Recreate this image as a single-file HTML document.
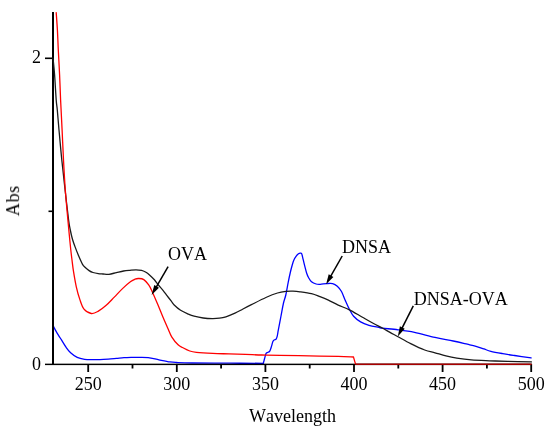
<!DOCTYPE html>
<html><head><meta charset="utf-8"><style>
html,body{margin:0;padding:0;background:#fff;}
body{width:550px;height:429px;overflow:hidden;font-family:"Liberation Serif",serif;}
svg{display:block;}
.t{will-change:transform;}
</style></head><body>
<svg width="550" height="429" viewBox="0 0 550 429">
<rect width="550" height="429" fill="#fff"/>
<g fill="none" stroke-linejoin="round" stroke-linecap="round">
<path d="M53.00,325.20 C53.27,325.77 53.98,327.42 54.60,328.60 C55.22,329.78 55.58,330.45 56.70,332.30 C57.82,334.15 59.75,337.22 61.30,339.70 C62.85,342.18 64.45,345.02 66.00,347.20 C67.55,349.38 68.73,351.10 70.60,352.80 C72.47,354.50 74.87,356.32 77.20,357.40 C79.53,358.48 82.13,358.92 84.60,359.30 C87.07,359.68 89.43,359.65 92.00,359.70 C94.57,359.75 97.28,359.70 100.00,359.60 C102.72,359.50 105.57,359.30 108.30,359.10 C111.03,358.90 113.78,358.63 116.40,358.40 C119.02,358.17 121.43,357.87 124.00,357.70 C126.57,357.53 129.23,357.47 131.80,357.40 C134.37,357.33 136.67,357.27 139.40,357.30 C142.13,357.33 144.93,357.18 148.20,357.60 C151.47,358.02 155.37,359.08 159.00,359.80 C162.63,360.52 167.08,361.45 170.00,361.90 C172.92,362.35 172.87,362.32 176.50,362.50 C180.13,362.68 182.88,362.88 191.80,363.00 C200.72,363.12 218.08,363.15 230.00,363.20 C241.92,363.25 257.75,363.28 263.30,363.30" stroke="#0000ff" stroke-width="1.3"/>
<path d="M263.30,363.30 C263.52,362.50 264.15,360.12 264.60,358.50 C265.05,356.88 265.50,354.60 266.00,353.60 C266.50,352.60 267.00,352.87 267.60,352.50 C268.20,352.13 269.00,352.27 269.60,351.40 C270.20,350.53 270.65,348.93 271.20,347.30 C271.75,345.67 272.35,342.85 272.90,341.60 C273.45,340.35 273.97,340.22 274.50,339.80 C275.03,339.38 275.63,339.77 276.10,339.10 C276.57,338.43 276.93,337.28 277.30,335.80 C277.67,334.32 277.68,333.50 278.30,330.20 C278.92,326.90 280.13,320.53 281.00,316.00 C281.87,311.47 282.70,306.50 283.50,303.00 C284.30,299.50 285.02,298.45 285.80,295.00 C286.58,291.55 287.45,286.05 288.20,282.30 C288.95,278.55 289.65,275.30 290.30,272.50 C290.95,269.70 291.52,267.55 292.10,265.50 C292.68,263.45 293.12,261.75 293.80,260.20 C294.48,258.65 295.42,257.27 296.20,256.20 C296.98,255.13 297.83,254.30 298.50,253.80 C299.17,253.30 299.67,253.20 300.20,253.20 C300.73,253.20 301.20,252.72 301.70,253.80 C302.20,254.88 302.67,257.57 303.20,259.70 C303.73,261.83 304.33,264.38 304.90,266.60 C305.47,268.82 306.00,271.18 306.60,273.00 C307.20,274.82 307.68,276.05 308.50,277.50 C309.32,278.95 310.23,280.62 311.50,281.70 C312.77,282.78 314.65,283.57 316.10,284.00 C317.55,284.43 318.47,284.37 320.20,284.30 C321.93,284.23 324.43,283.72 326.50,283.60 C328.57,283.48 330.80,283.17 332.60,283.60 C334.40,284.03 335.82,284.88 337.30,286.20 C338.78,287.52 340.18,289.17 341.50,291.50 C342.82,293.83 343.88,297.23 345.20,300.20 C346.52,303.17 348.00,306.62 349.40,309.30 C350.80,311.98 351.73,314.20 353.60,316.30 C355.47,318.40 358.03,320.40 360.60,321.90 C363.17,323.40 365.98,324.38 369.00,325.30 C372.02,326.22 376.42,326.92 378.70,327.40 C380.98,327.88 379.48,327.80 382.70,328.20 C385.92,328.60 392.70,329.10 398.00,329.80 C403.30,330.50 408.33,331.13 414.50,332.40 C420.67,333.67 428.55,335.97 435.00,337.40 C441.45,338.83 447.82,339.87 453.20,341.00 C458.58,342.13 463.50,343.32 467.30,344.20 C471.10,345.08 473.25,345.52 476.00,346.30 C478.75,347.08 481.32,348.07 483.80,348.90 C486.28,349.73 487.75,350.52 490.90,351.30 C494.05,352.08 498.75,352.90 502.70,353.60 C506.65,354.30 509.87,354.78 514.60,355.50 C519.33,356.22 528.35,357.50 531.10,357.90" stroke="#0000ff" stroke-width="1.3"/>
</g>
<g fill="#000">
<rect x="52" y="12" width="2" height="353"/>
<rect x="45" y="363.65" width="487" height="1.45"/>
<rect x="45" y="57.5" width="8" height="1.6"/>
<rect x="48.5" y="210.5" width="4" height="1.6"/>
<rect x="87.30" y="364" width="1.8" height="8"/>
<rect x="175.90" y="364" width="1.8" height="8"/>
<rect x="264.50" y="364" width="1.8" height="8"/>
<rect x="353.10" y="364" width="1.8" height="8"/>
<rect x="441.70" y="364" width="1.8" height="8"/>
<rect x="530.30" y="364" width="1.8" height="8"/>
<rect x="131.60" y="364" width="1.8" height="4.5"/>
<rect x="220.20" y="364" width="1.8" height="4.5"/>
<rect x="308.80" y="364" width="1.8" height="4.5"/>
<rect x="397.40" y="364" width="1.8" height="4.5"/>
<rect x="486.00" y="364" width="1.8" height="4.5"/>
</g>
<g fill="none" stroke-linejoin="round" stroke-linecap="round">
<path d="M53.00,58.00 C53.27,60.83 54.07,68.00 54.60,75.00 C55.13,82.00 55.75,94.17 56.20,100.00 C56.65,105.83 56.83,105.00 57.30,110.00 C57.77,115.00 58.25,121.67 59.00,130.00 C59.75,138.33 60.78,150.00 61.80,160.00 C62.82,170.00 63.97,180.00 65.10,190.00 C66.23,200.00 67.73,213.33 68.60,220.00 C69.47,226.67 69.67,226.83 70.30,230.00 C70.93,233.17 71.63,236.27 72.40,239.00 C73.17,241.73 73.87,243.60 74.90,246.40 C75.93,249.20 77.35,252.85 78.60,255.80 C79.85,258.75 81.33,262.18 82.40,264.10 C83.47,266.02 83.88,266.22 85.00,267.30 C86.12,268.38 87.77,269.73 89.10,270.60 C90.43,271.47 91.48,272.00 93.00,272.50 C94.52,273.00 96.53,273.35 98.20,273.60 C99.87,273.85 101.20,273.88 103.00,274.00 C104.80,274.12 106.77,274.53 109.00,274.30 C111.23,274.07 113.97,273.15 116.40,272.60 C118.83,272.05 121.33,271.38 123.60,271.00 C125.87,270.62 127.93,270.48 130.00,270.30 C132.07,270.12 134.07,269.90 136.00,269.90 C137.93,269.90 140.02,269.95 141.60,270.30 C143.18,270.65 144.18,271.23 145.50,272.00 C146.82,272.77 148.02,273.60 149.50,274.90 C150.98,276.20 152.93,278.13 154.40,279.80 C155.87,281.47 156.83,283.10 158.30,284.90 C159.77,286.70 161.72,288.77 163.20,290.60 C164.68,292.43 165.85,294.13 167.20,295.90 C168.55,297.67 170.13,299.68 171.30,301.20 C172.47,302.72 172.65,303.48 174.20,305.00 C175.75,306.52 178.25,308.78 180.60,310.30 C182.95,311.82 186.05,313.12 188.30,314.10 C190.55,315.08 191.62,315.55 194.10,316.20 C196.58,316.85 200.17,317.60 203.20,318.00 C206.23,318.40 209.58,318.57 212.30,318.60 C215.02,318.63 217.23,318.50 219.50,318.20 C221.77,317.90 223.32,317.63 225.90,316.80 C228.48,315.97 232.15,314.50 235.00,313.20 C237.85,311.90 240.27,310.42 243.00,309.00 C245.73,307.58 247.58,306.62 251.40,304.70 C255.22,302.78 261.55,299.45 265.90,297.50 C270.25,295.55 274.10,294.02 277.50,293.00 C280.90,291.98 283.72,291.70 286.30,291.40 C288.88,291.10 290.72,291.13 293.00,291.20 C295.28,291.27 296.92,291.38 300.00,291.80 C303.08,292.22 308.17,292.88 311.50,293.70 C314.83,294.52 317.18,295.62 320.00,296.70 C322.82,297.78 325.37,298.80 328.40,300.20 C331.43,301.60 334.70,303.50 338.20,305.10 C341.70,306.70 345.43,307.82 349.40,309.80 C353.37,311.78 358.05,314.75 362.00,317.00 C365.95,319.25 369.65,321.42 373.10,323.30 C376.55,325.18 379.88,326.78 382.70,328.30 C385.52,329.82 387.45,331.00 390.00,332.40 C392.55,333.80 394.55,334.83 398.00,336.70 C401.45,338.57 406.25,341.38 410.70,343.60 C415.15,345.82 420.65,348.47 424.70,350.00 C428.75,351.53 431.47,351.82 435.00,352.80 C438.53,353.78 442.27,355.02 445.90,355.90 C449.53,356.78 452.55,357.43 456.80,358.10 C461.05,358.77 465.95,359.45 471.40,359.90 C476.85,360.35 483.45,360.55 489.50,360.80 C495.55,361.05 500.72,361.22 507.70,361.40 C514.68,361.58 527.45,361.82 531.40,361.90" stroke="#1a1a1a" stroke-width="1.3"/>
<path d="M56.20,12.60 C56.40,15.50 57.05,23.77 57.40,30.00 C57.75,36.23 57.93,42.50 58.30,50.00 C58.67,57.50 59.22,66.67 59.60,75.00 C59.98,83.33 60.18,90.83 60.60,100.00 C61.02,109.17 61.62,120.00 62.10,130.00 C62.58,140.00 62.97,150.00 63.50,160.00 C64.03,170.00 64.57,180.00 65.30,190.00 C66.03,200.00 67.23,212.50 67.90,220.00 C68.57,227.50 68.82,230.00 69.30,235.00 C69.78,240.00 70.35,245.83 70.80,250.00 C71.25,254.17 71.55,256.43 72.00,260.00 C72.45,263.57 72.78,266.93 73.50,271.40 C74.22,275.87 75.25,282.13 76.30,286.80 C77.35,291.47 78.52,295.67 79.80,299.40 C81.08,303.13 82.08,306.85 84.00,309.20 C85.92,311.55 88.97,313.13 91.30,313.50 C93.63,313.87 95.52,312.77 98.00,311.40 C100.48,310.03 103.48,307.68 106.20,305.30 C108.92,302.92 111.58,299.88 114.30,297.10 C117.02,294.32 119.77,291.18 122.50,288.60 C125.23,286.02 128.62,283.17 130.70,281.60 C132.78,280.03 133.70,279.72 135.00,279.20 C136.30,278.68 137.03,278.43 138.50,278.50 C139.97,278.57 142.10,278.53 143.80,279.60 C145.50,280.67 147.33,282.97 148.70,284.90 C150.07,286.83 150.50,287.97 152.00,291.20 C153.50,294.43 155.92,300.08 157.70,304.30 C159.48,308.52 161.02,312.52 162.70,316.50 C164.38,320.48 166.30,324.82 167.80,328.20 C169.30,331.58 169.98,334.03 171.70,336.80 C173.42,339.57 176.22,342.97 178.10,344.80 C179.98,346.63 181.05,346.77 183.00,347.80 C184.95,348.83 187.57,350.25 189.80,351.00 C192.03,351.75 192.58,351.90 196.40,352.30 C200.22,352.70 207.27,353.13 212.70,353.40 C218.13,353.67 223.53,353.73 229.00,353.90 C234.47,354.07 240.03,354.22 245.50,354.40 C250.97,354.58 256.05,354.85 261.80,355.00 C267.55,355.15 272.12,355.15 280.00,355.30 C287.88,355.45 299.40,355.72 309.10,355.90 C318.80,356.08 330.80,356.22 338.20,356.40 C345.60,356.58 350.95,356.90 353.50,357.00" stroke="#ff0000" stroke-width="1.3"/>
<polyline points="353.50,357.10 355.60,364.35" stroke="#ff0000" stroke-width="1.3" stroke-linejoin="miter" stroke-linecap="butt"/>
<polyline points="355.60,364.35 531.60,364.35" stroke="#a80000" stroke-width="1.5" stroke-linecap="butt"/>
</g>
<line x1="168.10" y1="266.70" x2="155.63" y2="288.09" stroke="#000" stroke-width="1.5"/><polygon points="151.60,295.00 154.30,285.00 158.97,287.72" fill="#000"/>
<line x1="342.20" y1="256.00" x2="330.06" y2="277.35" stroke="#000" stroke-width="1.5"/><polygon points="326.10,284.30 328.70,274.27 333.39,276.94" fill="#000"/>
<line x1="413.30" y1="305.80" x2="401.41" y2="329.36" stroke="#000" stroke-width="1.5"/><polygon points="397.80,336.50 399.90,326.36 404.72,328.79" fill="#000"/>
<g font-family="Liberation Serif" font-size="18" fill="#000" style="font-kerning:none;will-change:transform">
<text x="41" y="63.2" text-anchor="end">2</text>
<text x="41" y="369.5" text-anchor="end">0</text>
<text x="88.20" y="389.6" text-anchor="middle">250</text>
<text x="176.80" y="389.6" text-anchor="middle">300</text>
<text x="265.40" y="389.6" text-anchor="middle">350</text>
<text x="354.00" y="389.6" text-anchor="middle">400</text>
<text x="442.60" y="389.6" text-anchor="middle">450</text>
<text x="531.20" y="389.6" text-anchor="middle">500</text>
<text x="292.5" y="421.9" text-anchor="middle">Wavelength</text>
<text transform="translate(19.1,200.6) rotate(-90)" text-anchor="middle" letter-spacing="0.6">Abs</text>
<text x="168" y="259.7">OVA</text>
<text x="342" y="253">DNSA</text>
<text x="413.8" y="305">DNSA-OVA</text>
</g>
</svg>
</body></html>
